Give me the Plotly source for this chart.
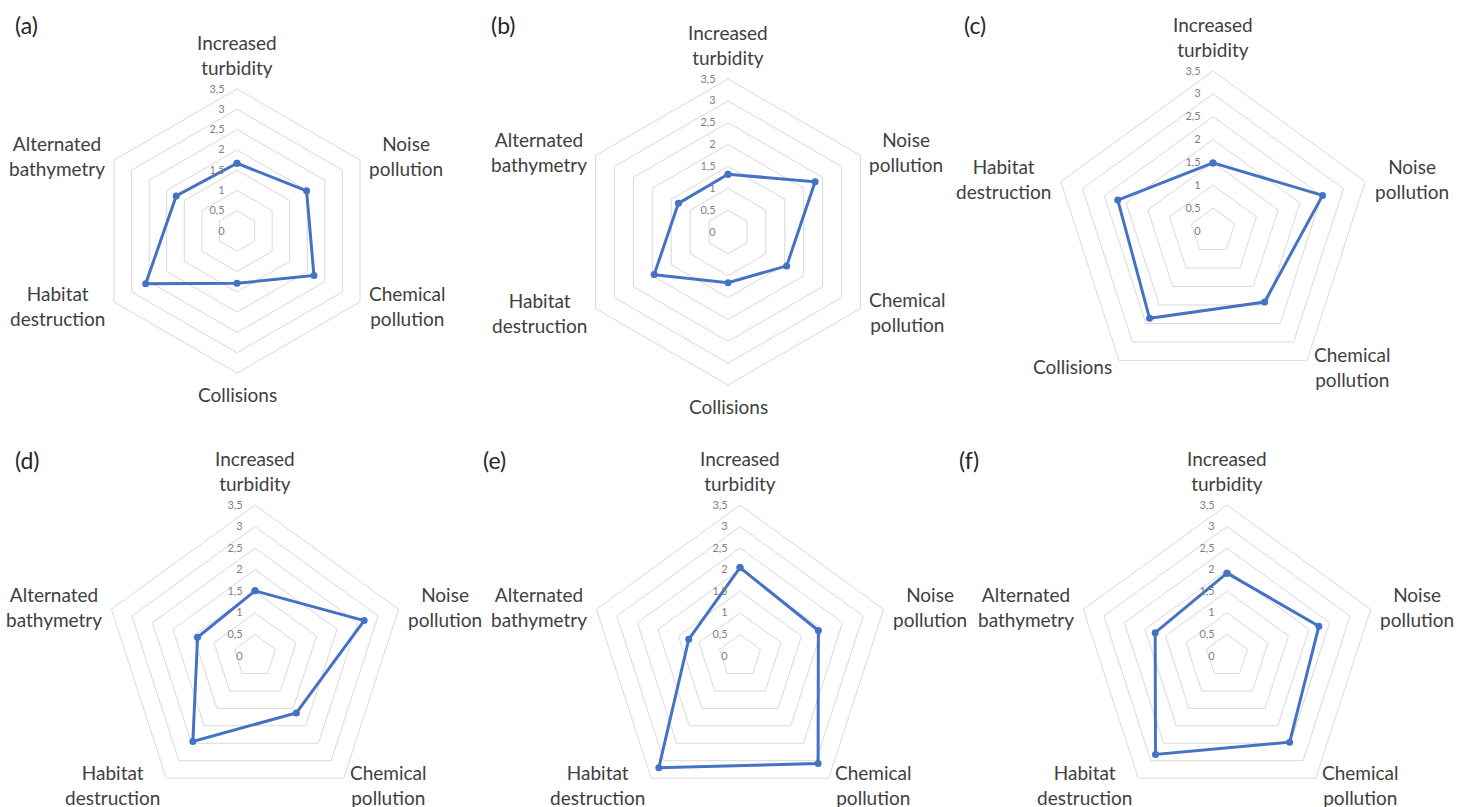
import math
import plotly.graph_objects as go

# Impact categories
TURB = "Increased turbidity"
NOISE = "Noise pollution"
CHEM = "Chemical pollution"
COLL = "Collisions"
HAB = "Habitat destruction"
BATH = "Alternated bathymetry"

cats_a = [TURB, NOISE, CHEM, COLL, HAB, BATH]
vals_a = [1.67, 1.98, 2.19, 1.29, 2.6, 1.73]

cats_b = [TURB, NOISE, CHEM, COLL, HAB, BATH]
vals_b = [1.32, 2.3, 1.55, 1.16, 1.95, 1.31]

cats_c = [TURB, NOISE, CHEM, COLL, HAB]
vals_c = [1.49, 2.52, 1.92, 2.36, 2.19]

cats_d = [TURB, NOISE, CHEM, HAB, BATH]
vals_d = [1.51, 2.66, 1.63, 2.45, 1.4]

cats_e = [TURB, NOISE, CHEM, HAB, BATH]
vals_e = [2.05, 1.91, 3.08, 3.2, 1.25]

cats_f = [TURB, NOISE, CHEM, HAB, BATH]
vals_f = [1.92, 2.24, 2.47, 2.82, 1.75]

panel_letters = ["(a)", "(b)", "(c)", "(d)", "(e)", "(f)"]
radial_ticks = [0, 0.5, 1, 1.5, 2, 2.5, 3, 3.5]
radial_ticktext = ["0", "0,5", "1", "1,5", "2", "2,5", "3", "3,5"]
R_MAX = 3.5

W, H = 1470, 807
LINE_BLUE = "#4472C4"
GRID = "#d9d9d9"
FONT = "Lato"
LABEL_GAP = 8  # px between outer ring vertex and category text

# pixel centre (x, y-from-top) and radius of each panel
panels = [
    (cats_a, vals_a, 237, 231, 142),
    (cats_b, vals_b, 728, 232, 153),
    (cats_c, vals_c, 1213, 231, 160),
    (cats_d, vals_d, 255, 656, 151),
    (cats_e, vals_e, 740, 656, 151),
    (cats_f, vals_f, 1227, 656, 151),
]
letter_pos = [(13, 25), (489, 25), (962, 25), (13, 460), (481, 460), (957, 460)]


def wrap(label):
    return label.replace(" ", "<br>")


def category_annotation(label, k, n, cx, cy, r):
    """Category name placed just outside the k-th spoke (clockwise from top)."""
    ang = 2 * math.pi * k / n
    d = r + LABEL_GAP
    px = cx + d * math.sin(ang)
    py = cy - d * math.cos(ang)
    deg = math.degrees(ang)
    if abs(deg) < 1e-6:
        xa, ya = "center", "bottom"
    elif abs(deg - 180) < 1e-6:
        xa, ya = "center", "top"
    elif deg < 180:
        xa, ya = "left", "middle"
    else:
        xa, ya = "right", "middle"
    return dict(
        text=wrap(label), x=px / W, y=1 - py / H, xref="paper", yref="paper",
        xanchor=xa, yanchor=ya, showarrow=False, align="center",
        font=dict(family=FONT, size=19, color="#404040"),
    )


fig = go.Figure()
layout_polars = {}
annotations = []
for i, (cats, vals, cx, cy, r) in enumerate(panels):
    name = "polar" if i == 0 else f"polar{i + 1}"
    fig.add_trace(go.Scatterpolar(
        r=vals + vals[:1],
        theta=cats + cats[:1],
        mode="lines+markers",
        line=dict(color=LINE_BLUE, width=3),
        marker=dict(color=LINE_BLUE, size=7),
        subplot=name,
        showlegend=False,
        hoverinfo="skip",
    ))
    for k, c in enumerate(cats):
        annotations.append(category_annotation(c, k, len(cats), cx, cy, r))

    x0 = max(0, (cx - r) / W)
    x1 = min(1, (cx + r) / W)
    yb = H - cy
    y0 = max(0, (yb - r) / H)
    y1 = min(1, (yb + r) / H)
    layout_polars[name] = dict(
        domain=dict(x=[x0, x1], y=[y0, y1]),
        gridshape="linear",
        bgcolor="white",
        radialaxis=dict(
            range=[0, R_MAX],
            tickvals=radial_ticks,
            ticktext=radial_ticktext,
            angle=90,
            side="counterclockwise",
            tickangle=90,
            showline=False,
            ticks="outside",
            ticklen=8,
            tickcolor="rgba(0,0,0,0)",
            showgrid=True,
            gridcolor=GRID,
            gridwidth=1,
            tickfont=dict(family=FONT, size=11, color="#7f7f7f"),
        ),
        angularaxis=dict(
            type="category",
            categoryorder="array",
            categoryarray=cats,
            direction="clockwise",
            rotation=90,
            showgrid=False,
            showline=True,
            linecolor=GRID,
            linewidth=1,
            ticks="",
            showticklabels=False,
        ),
    )

for txt, (px, py) in zip(panel_letters, letter_pos):
    annotations.append(dict(
        text=txt, x=px / W, y=1 - py / H, xref="paper", yref="paper",
        xanchor="left", yanchor="middle", showarrow=False,
        font=dict(family=FONT, size=23, color="#262626"),
    ))

fig.update_layout(
    width=W, height=H,
    margin=dict(l=0, r=0, t=0, b=0),
    paper_bgcolor="white",
    plot_bgcolor="white",
    annotations=annotations,
    **layout_polars,
)

fig.write_html("out.html")
